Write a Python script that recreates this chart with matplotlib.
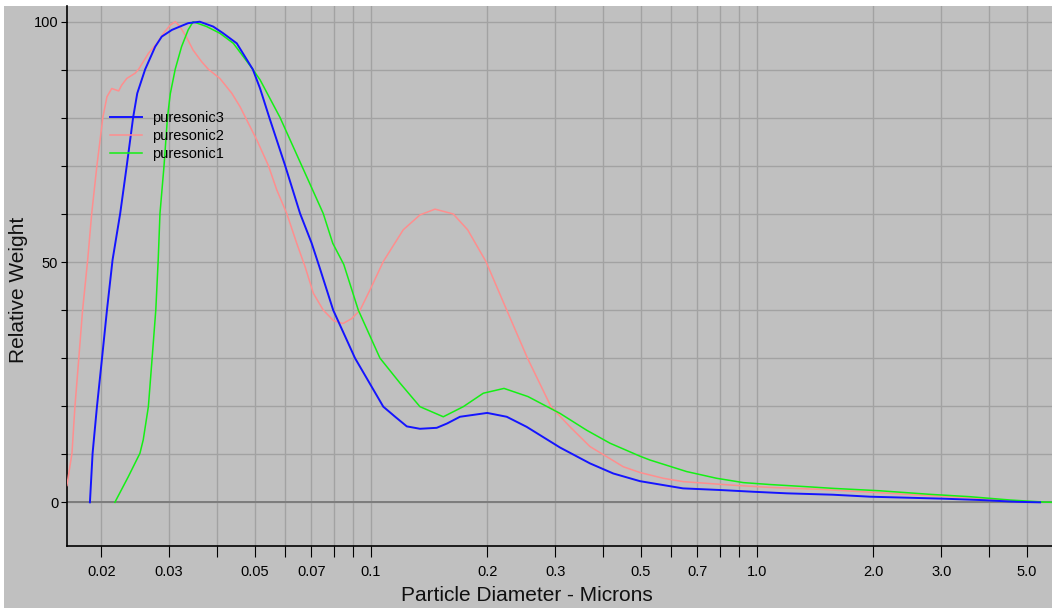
import matplotlib
matplotlib.use("Agg")
import matplotlib.pyplot as plt
from matplotlib.patches import Rectangle
from matplotlib.ticker import FixedLocator, FixedFormatter, NullLocator

plt.rcParams['font.family'] = ['Liberation Sans', 'DejaVu Sans']

# puresonic3 (blue)
d3 = [0.0187, 0.0190, 0.0195, 0.0201, 0.0207, 0.0214, 0.0224, 0.0233, 0.0242, 0.0248,
      0.0260, 0.0276, 0.0287, 0.0305, 0.0320, 0.0336, 0.0360, 0.0390, 0.0414, 0.0449,
      0.0494, 0.0516, 0.0545, 0.0599, 0.0655, 0.0702, 0.0735, 0.0798, 0.0909, 0.1076,
      0.1155, 0.1238, 0.1339, 0.148, 0.1574, 0.170, 0.200, 0.2247, 0.2531, 0.3088,
      0.3692, 0.4242, 0.4975, 0.643, 0.802, 0.976, 1.194, 1.573, 1.962, 3.03,
      3.78, 4.71, 5.41]
w3 = [0, 10.2, 19.9, 30, 40, 50.4, 60.1, 70.1, 80.1, 85.1,
      90.1, 94.8, 96.9, 98.3, 99.0, 99.7, 100, 99.0, 97.6, 95.5,
      90.1, 86.1, 80.1, 70.1, 60.1, 53.9, 49.0, 40.0, 30.0, 19.9,
      17.8, 15.8, 15.3, 15.5, 16.4, 17.8, 18.6, 17.8, 15.7, 11.4,
      8.1, 6.0, 4.4, 2.9, 2.56, 2.2, 1.87, 1.58, 1.17, 0.76,
      0.48, 0.1, 0]

# puresonic2 (pink)
d2 = [0.0163, 0.0168, 0.0171, 0.0175, 0.0179, 0.01845, 0.0189, 0.0195, 0.0202, 0.0207,
      0.0213, 0.0222, 0.0226, 0.0233, 0.0245, 0.0250, 0.0265, 0.0279, 0.0290, 0.0302,
      0.0311, 0.0320, 0.0332, 0.0346, 0.0364, 0.0379, 0.0406, 0.0436, 0.0458, 0.0481,
      0.0506, 0.0542, 0.0570, 0.0605, 0.0642, 0.0675, 0.0709, 0.0752, 0.0800, 0.0846,
      0.0890, 0.0937, 0.0994, 0.1076, 0.1212, 0.1339, 0.1465, 0.1633, 0.178, 0.1985,
      0.2247, 0.2543, 0.2926, 0.3278, 0.3692, 0.4079, 0.4503, 0.4975, 0.5719, 0.6443,
      0.8513, 1.081, 1.456, 2.083, 2.644, 3.423, 4.095, 4.708, 5.10]
w2 = [3.5, 10.2, 19.9, 30, 40, 50.4, 60.1, 70.1, 80.1, 84.4,
      86.1, 85.6, 86.8, 88.2, 89.3, 90.1, 93.4, 95.5, 97.6, 99.3,
      100, 99.0, 96.9, 94.1, 91.7, 90.1, 88.2, 85.1, 82.3, 78.9,
      75.4, 70.1, 65.0, 60.1, 53.9, 49.0, 43.5, 40.0, 37.8, 37.2,
      38.2, 40.0, 44.2, 50.1, 56.7, 59.8, 61.0, 60.0, 56.7, 50.1,
      40.0, 30.0, 19.9, 15.7, 11.6, 9.5, 7.4, 6.2, 5.0, 4.3,
      3.6, 3.1, 2.7, 2.0, 1.5, 1.03, 0.62, 0.1, 0]

# puresonic1 (green)
d1 = [0.0217, 0.0235, 0.0247, 0.0252, 0.0257, 0.0265, 0.0271, 0.0277, 0.0281, 0.0284,
      0.0291, 0.0297, 0.0302, 0.0311, 0.0323, 0.0336, 0.0346, 0.0375, 0.0406, 0.0440,
      0.0494, 0.0516, 0.0581, 0.0661, 0.0752, 0.0796, 0.0850, 0.0927, 0.1055, 0.1189,
      0.1339, 0.1539, 0.1734, 0.1954, 0.2211, 0.2551, 0.3088, 0.362, 0.416, 0.4975,
      0.528, 0.657, 0.786, 0.922, 1.081, 1.345, 1.576, 2.083, 2.807, 3.563,
      4.523, 5.51, 5.81]
w1 = [0, 5.3, 8.8, 10.2, 13.0, 19.9, 30, 40, 50.4, 60.1,
      70.1, 80.1, 85.0, 90.1, 94.8, 98.3, 100, 99.0, 97.6, 95.5,
      90.1, 87.9, 80.1, 70.1, 60.1, 53.9, 49.5, 40, 30, 24.8,
      19.9, 17.8, 19.9, 22.7, 23.7, 22.0, 18.5, 15.0, 12.3, 9.6,
      8.8, 6.4, 5.0, 4.1, 3.7, 3.25, 2.9, 2.4, 1.66, 1.17,
      0.48, 0.06, 0]

xticks = [0.02, 0.03, 0.04, 0.05, 0.06, 0.07, 0.08, 0.09,
          0.1, 0.2, 0.3, 0.4, 0.5, 0.6, 0.7, 0.8, 0.9,
          1.0, 2.0, 3.0, 4.0, 5.0]
xtick_labels = ["0.02", "0.03", "", "0.05", "", "0.07", "", "",
                "0.1", "0.2", "0.3", "", "0.5", "", "0.7", "", "",
                "1.0", "2.0", "3.0", "", "5.0"]
yticks = [0, 10, 20, 30, 40, 50, 60, 70, 80, 90, 100]
ytick_labels = ["0", "", "", "", "", "50", "", "", "", "", "100"]

W, H = 1052, 610
bg = '#c0c0c0'
fig = plt.figure(figsize=(W / 100, H / 100), dpi=100, facecolor='white')
fig.patches.append(Rectangle((4 / W, 2 / H), (W - 4) / W, (608 - 6) / H,
                             transform=fig.transFigure, facecolor=bg,
                             edgecolor='none', zorder=-5))

ax = fig.add_axes([67 / W, (H - 546) / H, (W - 67) / W, (546 - 6) / H])
ax.set_facecolor(bg)

ax.plot(d3, w3, color='#1414ff', lw=1.4, label='puresonic3', zorder=4)
ax.plot(d2, w2, color='#ff8e8e', lw=1.1, label='puresonic2', zorder=3)
ax.plot(d1, w1, color='#14f014', lw=1.1, label='puresonic1', zorder=3)

ax.set_xscale('log')
ax.set_xlim(0.01631, 5.81)
ax.set_ylim(-9.09, 103.27)

ax.xaxis.set_major_locator(FixedLocator(xticks))
ax.xaxis.set_major_formatter(FixedFormatter(xtick_labels))
ax.xaxis.set_minor_locator(NullLocator())
ax.yaxis.set_major_locator(FixedLocator(yticks))
ax.yaxis.set_major_formatter(FixedFormatter(ytick_labels))

ax.grid(True, color='#a2a2a2', lw=1.0, zorder=1)
ax.set_axisbelow(True)
ax.axhline(0, color='#7c7c7c', lw=1.4, zorder=2)

for s in ['top', 'right']:
    ax.spines[s].set_visible(False)
for s in ['left', 'bottom']:
    ax.spines[s].set_color('black')
    ax.spines[s].set_linewidth(1.2)

ax.tick_params(axis='x', direction='out', length=8, width=0.8, pad=5.5,
               labelsize=10.5, colors='black')
ax.tick_params(axis='y', direction='out', length=4.3, width=0.8, pad=2,
               labelsize=10.5, colors='black')

ax.set_xlabel('Particle Diameter - Microns', fontsize=15, color='#101010')
ax.xaxis.set_label_coords(0.4665, -0.074)
ax.set_ylabel('Relative Weight', fontsize=15, color='#101010')
ax.yaxis.set_label_coords(-0.040, 0.474)

ax.legend(loc='upper left', bbox_to_anchor=(110 / W, 1 - 111 / H),
          bbox_transform=fig.transFigure, frameon=False, fontsize=10.5,
          handlelength=2.2, handletextpad=0.7, labelspacing=0.29,
          borderpad=0, borderaxespad=0)

fig.savefig('out.png', dpi=100, facecolor=fig.get_facecolor())
